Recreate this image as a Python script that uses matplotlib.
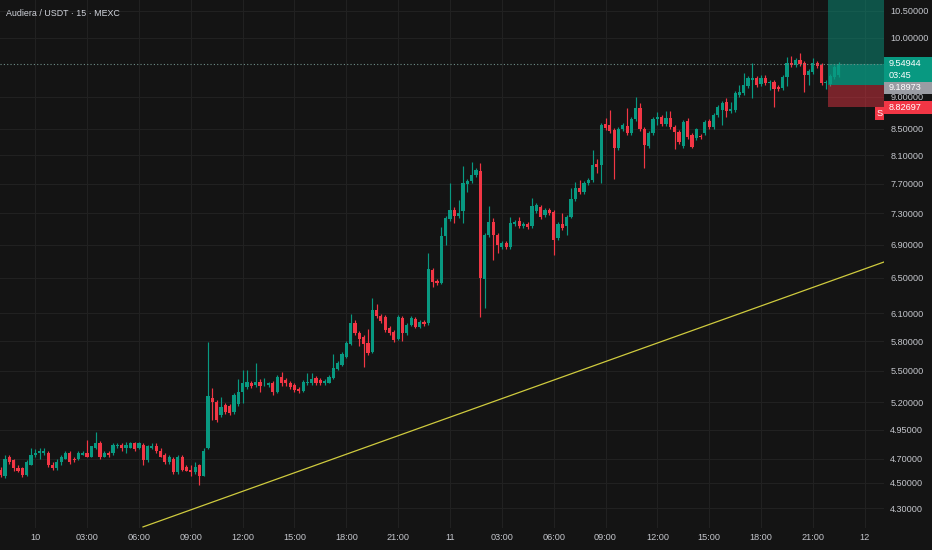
import numpy as np
import matplotlib
matplotlib.use("Agg")
import matplotlib.pyplot as plt
from matplotlib.patches import Rectangle
from matplotlib.ticker import NullLocator, NullFormatter

plt.rcParams['font.family'] = ['Liberation Sans', 'DejaVu Sans']

# 15 minute candles, first bar = 09 22:00
opens = [
    4.608, 4.551, 4.709, 4.684, 4.625, 4.617, 4.567, 4.650, 4.734, 4.743,
    4.751, 4.751, 4.650, 4.625, 4.667, 4.700, 4.743, 4.700, 4.692, 4.734,
    4.751, 4.717, 4.786, 4.837, 4.717, 4.751, 4.743, 4.803, 4.820, 4.794,
    4.794, 4.829, 4.786, 4.820, 4.684, 4.786, 4.803, 4.768, 4.726, 4.667,
    4.700, 4.584, 4.717, 4.633, 4.608, 4.584, 4.642, 4.559, 4.786, 5.244,
    5.206, 5.086, 5.178, 5.169, 5.114, 5.187, 5.300, 5.348, 5.387, 5.368,
    5.397, 5.378, 5.368, 5.387, 5.300, 5.445, 5.416, 5.387, 5.368, 5.329,
    5.310, 5.387, 5.387, 5.436, 5.416, 5.387, 5.387, 5.436, 5.524, 5.564,
    5.644, 5.777, 5.999, 5.892, 5.850, 5.787, 5.695, 6.140, 6.074, 6.063,
    5.945, 5.903, 5.829, 6.053, 5.892, 5.977, 6.042, 5.956, 6.009, 5.999,
    6.596, 6.468, 6.444, 7.010, 7.227, 7.345, 7.267, 7.332, 7.696, 7.737,
    7.821, 7.877, 6.491, 7.023, 7.188, 7.023, 6.874, 6.923, 6.874, 7.163,
    7.201, 7.137, 7.163, 7.137, 7.332, 7.384, 7.280, 7.345, 7.319, 6.985,
    7.163, 7.137, 7.254, 7.491, 7.641, 7.586, 7.710, 7.751, 7.976, 7.962,
    8.570, 8.554, 8.478, 8.209, 8.493, 8.539, 8.432, 8.647, 8.820, 8.493,
    8.238, 8.432, 8.647, 8.678, 8.570, 8.663, 8.524, 8.448, 8.238, 8.616,
    8.402, 8.357, 8.387, 8.432, 8.616, 8.524, 8.710, 8.788, 8.915, 8.772,
    8.788, 9.028, 9.060, 9.175, 9.274, 9.308, 9.208, 9.308, 9.224, 9.241,
    9.158, 9.142, 9.325, 9.562, 9.527, 9.613, 9.562, 9.358, 9.409, 9.562,
    9.527, 9.224, 9.208, 9.325, 9.358,
]
closes = [
    4.567, 4.700, 4.675, 4.617, 4.600, 4.567, 4.667, 4.734, 4.751, 4.760,
    4.768, 4.642, 4.625, 4.675, 4.709, 4.751, 4.675, 4.684, 4.743, 4.751,
    4.717, 4.803, 4.837, 4.709, 4.751, 4.726, 4.820, 4.820, 4.786, 4.820,
    4.829, 4.777, 4.829, 4.684, 4.803, 4.811, 4.760, 4.717, 4.667, 4.717,
    4.584, 4.709, 4.608, 4.600, 4.584, 4.633, 4.559, 4.768, 5.263, 5.206,
    5.041, 5.160, 5.114, 5.104, 5.272, 5.300, 5.378, 5.397, 5.358, 5.397,
    5.358, 5.387, 5.378, 5.300, 5.445, 5.378, 5.378, 5.348, 5.319, 5.310,
    5.397, 5.397, 5.426, 5.387, 5.387, 5.406, 5.445, 5.534, 5.583, 5.674,
    5.787, 5.999, 5.892, 5.829, 5.777, 5.684, 6.140, 6.074, 6.020, 5.924,
    5.892, 5.818, 6.063, 5.892, 5.977, 6.053, 5.956, 6.009, 5.988, 6.608,
    6.456, 6.444, 7.010, 7.240, 7.345, 7.267, 7.306, 7.710, 7.737, 7.821,
    7.891, 6.502, 7.023, 7.188, 7.023, 6.898, 6.923, 6.874, 7.176, 7.188,
    7.137, 7.163, 7.124, 7.398, 7.411, 7.254, 7.345, 7.306, 6.960, 7.163,
    7.112, 7.254, 7.491, 7.641, 7.586, 7.710, 7.751, 7.962, 7.934, 8.554,
    8.508, 8.463, 8.209, 8.493, 8.554, 8.432, 8.647, 8.820, 8.493, 8.253,
    8.432, 8.647, 8.678, 8.570, 8.663, 8.524, 8.448, 8.297, 8.601, 8.372,
    8.223, 8.493, 8.372, 8.601, 8.524, 8.710, 8.835, 8.899, 8.772, 8.804,
    9.060, 9.077, 9.191, 9.308, 9.308, 9.191, 9.308, 9.224, 9.241, 9.125,
    9.125, 9.325, 9.562, 9.527, 9.613, 9.545, 9.358, 9.425, 9.562, 9.510,
    9.224, 9.241, 9.341, 9.493, 9.549,
]
highs = [
    4.633, 4.726, 4.734, 4.700, 4.642, 4.633, 4.684, 4.786, 4.777, 4.786,
    4.786, 4.768, 4.667, 4.692, 4.726, 4.768, 4.760, 4.717, 4.760, 4.768,
    4.863, 4.811, 4.933, 4.854, 4.768, 4.768, 4.837, 4.837, 4.837, 4.846,
    4.846, 4.846, 4.846, 4.837, 4.820, 4.829, 4.837, 4.786, 4.743, 4.734,
    4.717, 4.726, 4.734, 4.650, 4.650, 4.675, 4.658, 4.786, 5.798, 5.339,
    5.225, 5.253, 5.197, 5.187, 5.291, 5.426, 5.514, 5.514, 5.406, 5.583,
    5.426, 5.436, 5.397, 5.406, 5.465, 5.494, 5.436, 5.406, 5.387, 5.348,
    5.416, 5.485, 5.485, 5.455, 5.436, 5.426, 5.465, 5.674, 5.603, 5.695,
    5.808, 6.096, 6.031, 5.913, 5.871, 5.935, 6.273, 6.206, 6.096, 6.085,
    5.966, 5.924, 6.085, 6.074, 5.999, 6.074, 6.063, 6.031, 6.031, 6.800,
    6.620, 6.491, 7.124, 7.267, 7.710, 7.384, 7.478, 7.948, 7.765, 8.005,
    7.919, 7.991, 7.048, 7.398, 7.240, 7.048, 6.948, 6.948, 7.254, 7.214,
    7.254, 7.188, 7.188, 7.505, 7.438, 7.411, 7.371, 7.371, 7.345, 7.188,
    7.306, 7.280, 7.641, 7.724, 7.751, 7.737, 7.779, 8.179, 8.048, 8.585,
    8.663, 8.788, 8.508, 8.524, 8.585, 8.820, 8.678, 8.996, 8.899, 8.524,
    8.463, 8.678, 8.757, 8.710, 8.772, 8.772, 8.554, 8.478, 8.631, 8.663,
    8.432, 8.508, 8.417, 8.631, 8.647, 8.741, 8.867, 8.931, 8.980, 8.915,
    9.093, 9.191, 9.392, 9.341, 9.562, 9.341, 9.358, 9.358, 9.274, 9.274,
    9.191, 9.358, 9.665, 9.683, 9.648, 9.735, 9.596, 9.459, 9.648, 9.596,
    9.562, 9.274, 9.375, 9.527, 9.579,
]
lows = [
    4.543, 4.535, 4.658, 4.600, 4.584, 4.543, 4.559, 4.642, 4.717, 4.692,
    4.734, 4.633, 4.608, 4.608, 4.650, 4.692, 4.658, 4.667, 4.684, 4.726,
    4.709, 4.709, 4.777, 4.700, 4.709, 4.717, 4.726, 4.786, 4.768, 4.751,
    4.786, 4.768, 4.777, 4.650, 4.675, 4.777, 4.751, 4.709, 4.658, 4.658,
    4.575, 4.575, 4.600, 4.592, 4.559, 4.575, 4.486, 4.551, 4.777, 5.041,
    5.023, 5.068, 5.095, 5.086, 5.095, 5.169, 5.197, 5.329, 5.339, 5.348,
    5.300, 5.358, 5.348, 5.272, 5.291, 5.358, 5.358, 5.329, 5.300, 5.291,
    5.300, 5.368, 5.368, 5.368, 5.368, 5.368, 5.378, 5.426, 5.514, 5.554,
    5.634, 5.767, 5.871, 5.756, 5.544, 5.664, 5.684, 6.053, 5.999, 5.903,
    5.871, 5.798, 5.818, 5.808, 5.871, 5.966, 5.945, 5.945, 5.966, 5.977,
    6.398, 6.421, 6.433, 6.898, 7.201, 7.176, 7.240, 7.176, 7.586, 7.710,
    7.793, 6.063, 6.162, 6.998, 6.715, 6.800, 6.849, 6.849, 6.849, 7.137,
    7.112, 7.112, 7.099, 7.112, 7.306, 7.227, 7.254, 7.280, 6.776, 6.960,
    7.086, 7.023, 7.240, 7.465, 7.559, 7.559, 7.682, 7.724, 7.849, 7.710,
    8.478, 8.432, 7.765, 8.179, 8.463, 8.402, 8.402, 8.616, 8.463, 7.919,
    8.209, 8.402, 8.554, 8.539, 8.539, 8.493, 8.194, 8.268, 8.209, 8.342,
    8.209, 8.327, 8.342, 8.402, 8.493, 8.493, 8.678, 8.554, 8.678, 8.741,
    8.757, 8.996, 9.028, 9.142, 8.980, 9.158, 9.175, 9.191, 9.109, 8.835,
    9.093, 9.109, 9.175, 9.493, 9.493, 9.510, 9.077, 9.191, 9.375, 9.476,
    9.191, 9.125, 9.175, 9.291, 9.325,
]

price_ticks = [10.5, 10.0, 9.0, 8.5, 8.1, 7.7, 7.3, 6.9, 6.5, 6.1, 5.8,
               5.5, 5.2, 4.95, 4.7, 4.5, 4.3]
time_labels = ["10", "03:00", "06:00", "09:00", "12:00", "15:00", "18:00",
               "21:00", "11", "03:00", "06:00", "09:00", "12:00", "15:00",
               "18:00", "21:00", "12"]
first_tick_bar = 8      # bar index of 10 00:00
bars_per_tick = 12      # 3 hours of 15m bars

last_price = 9.54944
countdown = "03:45"
entry_price = 9.18973
stop_price = 8.82697
position_start_bar = 191.6

# trend line anchors (bar index, price)
trend_x = [32.94, 204.46]
trend_y = [4.157, 6.689]

title = "Audiera / USDT \u00b7 15 \u00b7 MEXC"

bg = "#141414"
grid_c = "#212121"
up_c = "#089981"
dn_c = "#f23645"
txt_c = "#c4c6cc"

W, H = 932, 550
fig = plt.figure(figsize=(W / 100, H / 100), dpi=100, facecolor=bg)
ax = fig.add_axes([0, 22 / H, 884 / W, 528 / H])
ax.set_facecolor(bg)
ax.set_yscale("log")
ax.set_xlim(-0.16, 204.46)
ax.set_ylim(4.149, 10.706)

o = np.array(opens)
c = np.array(closes)
hi = np.array(highs)
lo = np.array(lows)
x = np.arange(len(o))
cols = np.where(c >= o, up_c, dn_c)

ax.vlines(x, lo, hi, colors=cols, lw=0.85, zorder=2)
bot = np.minimum(o, c)
hgt = np.maximum(np.abs(c - o), bot * 0.0016)
ax.bar(x, hgt, bottom=bot, width=0.74, color=cols, linewidth=0, zorder=3)

# trend line
ax.plot(trend_x, trend_y, color="#cfcb3e", lw=0.9, zorder=4)

# long position tool
right = ax.get_xlim()[1]
pw = right - position_start_bar
ax.add_patch(Rectangle((position_start_bar, entry_price), pw, 20 - entry_price,
                       fc=up_c, alpha=0.48, lw=0, zorder=5))
ax.add_patch(Rectangle((position_start_bar, entry_price), pw, last_price - entry_price,
                       fc=up_c, alpha=0.6, lw=0, zorder=5))
ax.add_patch(Rectangle((position_start_bar, stop_price), pw, entry_price - stop_price,
                       fc=dn_c, alpha=0.45, lw=0, zorder=5))

# last price line
ax.axhline(last_price, color="#6f8f88", lw=0.8, ls=(0, (1, 2)), zorder=6)

# axes styling
for s in ax.spines.values():
    s.set_visible(False)
ax.yaxis.tick_right()
ax.set_yticks(price_ticks)
ax.set_yticklabels(["%.5f" % p for p in price_ticks])
ax.yaxis.set_minor_locator(NullLocator())
ax.yaxis.set_minor_formatter(NullFormatter())
tick_pos = [first_tick_bar + bars_per_tick * i for i in range(len(time_labels))]
ax.set_xticks(tick_pos)
ax.set_xticklabels(time_labels)
ax.tick_params(axis="y", length=0, pad=4.5, labelsize=6.6, colors=txt_c)
ax.tick_params(axis="x", length=0, pad=3.5, labelsize=6.6, colors=txt_c)
ax.grid(True, color=grid_c, lw=0.8)
ax.set_axisbelow(True)

fig.text(6 / W, 1 - 13 / H, title, fontsize=6.4, color="#d1d4dc", va="center")

# price scale labels
fig.canvas.draw()


def ypix(p):
    return ax.transData.transform((0, p))[1]


def label_box(y_center, h, fc, text, tc="white", fs=6.6):
    fig.add_artist(Rectangle((884 / W, (y_center - h / 2) / H), 48 / W, h / H,
                             transform=fig.transFigure, fc=fc, lw=0))
    fig.text(889 / W, y_center / H, text, color=tc, fontsize=fs, va="center")


yl = ypix(last_price)
fig.add_artist(Rectangle((884 / W, (yl - 18) / H), 48 / W, 24.5 / H,
                         transform=fig.transFigure, fc=up_c, lw=0))
fig.text(889 / W, yl / H, "%.5f" % last_price, color="white", fontsize=6.6, va="center")
fig.text(889 / W, (yl - 12) / H, countdown, color="white", fontsize=6.6, va="center")

label_box(ypix(entry_price) - 2.5, 12, "#9a9ca3", "%.5f" % entry_price)
label_box(ypix(stop_price), 12.5, dn_c, "%.5f" % stop_price)

ys = ypix(stop_price) - 6.5
fig.add_artist(Rectangle((875 / W, (ys - 6.5) / H), 9 / W, 13 / H,
                         transform=fig.transFigure, fc=dn_c, lw=0))
fig.text(877 / W, ys / H, "S", color="white", fontsize=6.6, va="center")

fig.savefig("out.png", dpi=100, facecolor=bg)
